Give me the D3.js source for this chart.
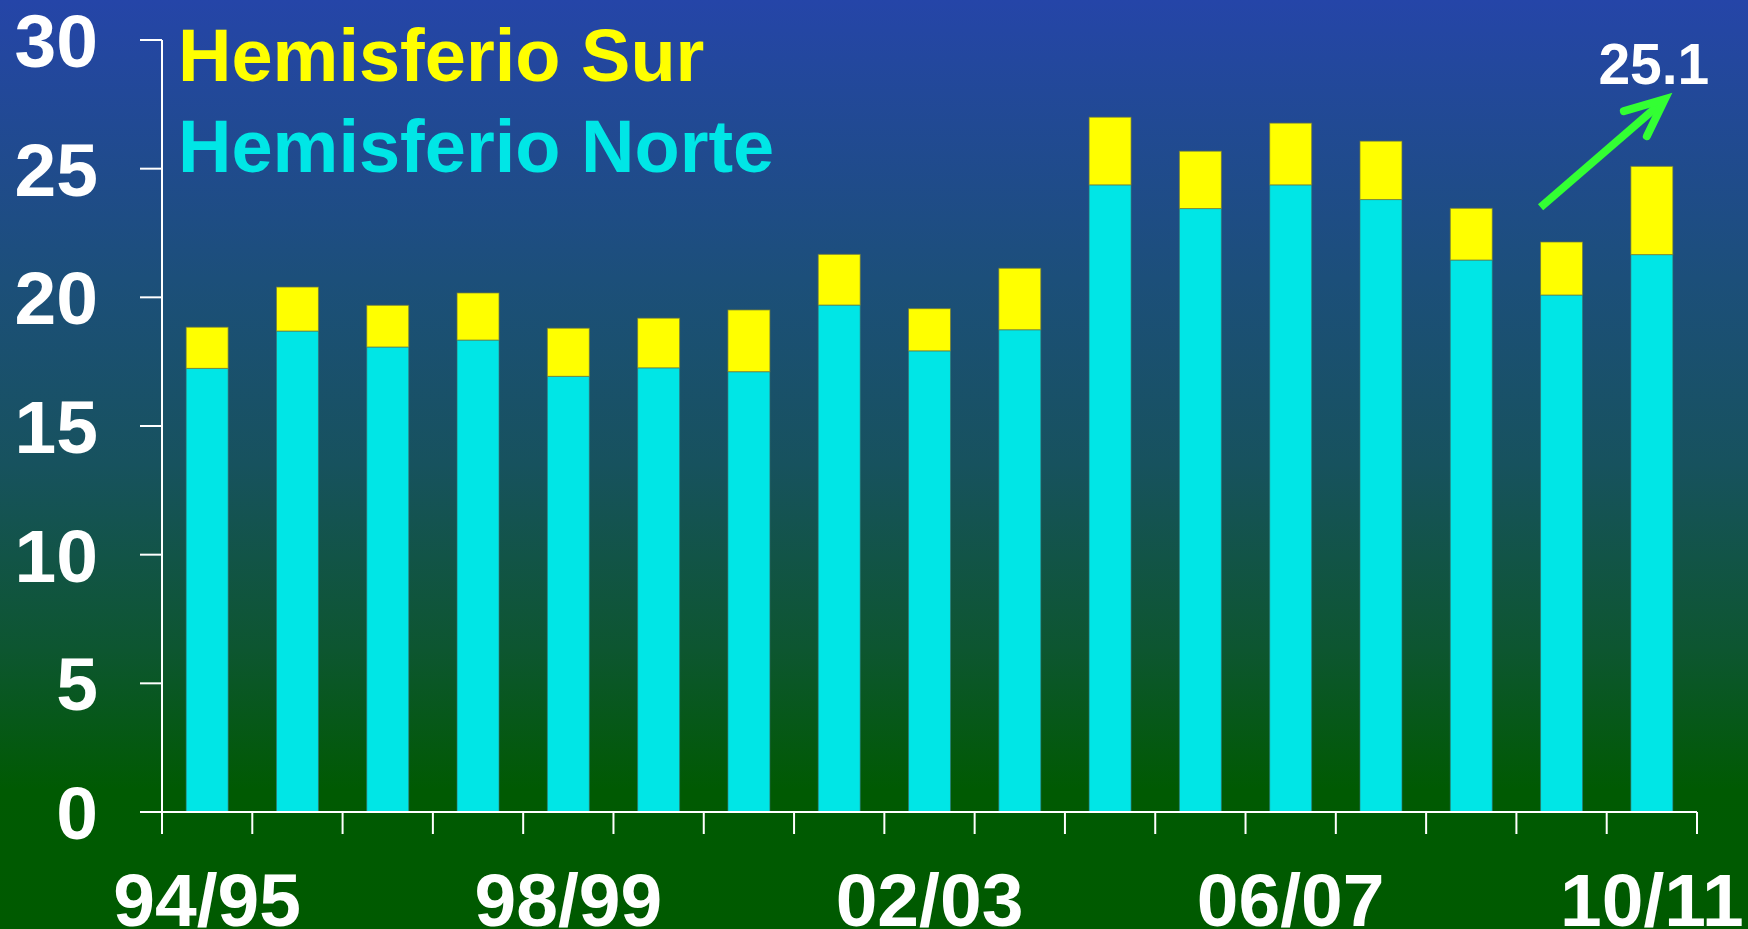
<!DOCTYPE html>
<html>
<head>
<meta charset="utf-8">
<script src="https://cdn.jsdelivr.net/npm/d3@7"></script>
<style>
  html, body { margin: 0; padding: 0; background: #005a00; }
  svg { display: block; }
  text { font-family: "Liberation Sans", Arial, sans-serif; font-weight: bold; }
</style>
</head>
<body>
<svg id="chart" width="1748" height="929"></svg>
<script>
// ---- data ----
const categories = ["94/95","95/96","96/97","97/98","98/99","99/00","00/01","01/02","02/03",
                    "03/04","04/05","05/06","06/07","07/08","08/09","09/10","10/11"];
const norte = [17.24, 18.69, 18.07, 18.34, 16.93, 17.26, 17.11, 19.70, 17.92,
               18.74, 24.37, 23.45, 24.37, 23.80, 21.45, 20.09, 21.66];
const sur   = [1.60, 1.71, 1.62, 1.83, 1.87, 1.93, 2.40, 1.97, 1.64,
               2.39, 2.63, 2.23, 2.40, 2.27, 2.01, 2.06, 3.43];
const yTicks = [0, 5, 10, 15, 20, 25, 30];
const xLabels = ["94/95", "98/99", "02/03", "06/07", "10/11"];
const seriesNames = ["Hemisferio Sur", "Hemisferio Norte"];
const annotation = "25.1";

// ---- layout ----
const W = 1748, H = 929;
const svg = d3.select("#chart");

const defs = svg.append("defs");
const grad = defs.append("linearGradient").attr("id", "bg")
  .attr("x1", 0).attr("y1", 0).attr("x2", 0).attr("y2", 1);
grad.append("stop").attr("offset", "0%").attr("stop-color", "#2545a8");
grad.append("stop").attr("offset", "30%").attr("stop-color", "#1c4f7a");
grad.append("stop").attr("offset", "50%").attr("stop-color", "#17525e");
grad.append("stop").attr("offset", "70%").attr("stop-color", "#0d5630");
grad.append("stop").attr("offset", "85%").attr("stop-color", "#005a02");
grad.append("stop").attr("offset", "100%").attr("stop-color", "#005a00");
svg.append("rect").attr("width", W).attr("height", H).attr("fill", "url(#bg)");

const x = d3.scaleBand().domain(categories).range([162, 1697])
  .paddingInner(0.535).paddingOuter(0.2675);
const y = d3.scaleLinear().domain([0, 30]).range([812, 40]);

const rows = categories.map((c, i) => ({ c, n: norte[i], s: sur[i] }));

// bars
const g = svg.append("g");
g.selectAll("rect.n").data(rows).join("rect").attr("class", "n")
  .attr("x", d => x(d.c)).attr("width", x.bandwidth())
  .attr("y", d => y(d.n)).attr("height", d => y(0) - y(d.n))
  .attr("fill", "#00e6e6").attr("stroke", "rgba(60,110,110,0.6)").attr("stroke-width", 1);
g.selectAll("rect.s").data(rows).join("rect").attr("class", "s")
  .attr("x", d => x(d.c)).attr("width", x.bandwidth())
  .attr("y", d => y(d.n + d.s)).attr("height", d => y(d.n) - y(d.n + d.s))
  .attr("fill", "#ffff00").attr("stroke", "rgba(110,120,60,0.7)").attr("stroke-width", 1);

// y axis
const x0 = x.range()[0];
const ax = svg.append("g").attr("stroke", "#ffffff").attr("stroke-width", 2);
ax.append("line").attr("x1", x0).attr("x2", x0).attr("y1", y(30)).attr("y2", y(0));
ax.selectAll("line.yt").data(yTicks).join("line").attr("class", "yt")
  .attr("x1", x0 - 22).attr("x2", x0).attr("y1", d => y(d)).attr("y2", d => y(d));
svg.selectAll("text.yl").data(yTicks).join("text").attr("class", "yl")
  .attr("x", 98).attr("y", d => y(d) + 27).attr("text-anchor", "end")
  .attr("font-size", 75).attr("fill", "#ffffff").text(d => d);

// x axis
const xEnd = x.range()[1];
ax.append("line").attr("x1", x0 - 22).attr("x2", xEnd).attr("y1", y(0)).attr("y2", y(0));
const bounds = d3.range(categories.length + 1).map(i => x0 + i * x.step());
ax.selectAll("line.xt").data(bounds).join("line").attr("class", "xt")
  .attr("x1", d => d).attr("x2", d => d).attr("y1", y(0)).attr("y2", y(0) + 22);
svg.selectAll("text.xl").data(xLabels).join("text").attr("class", "xl")
  .attr("x", d => x(d) + x.bandwidth() / 2).attr("y", 926).attr("text-anchor", "middle")
  .attr("font-size", 75).attr("fill", "#ffffff").text(d => d);

// legend
svg.append("text").attr("x", 178).attr("y", 81).attr("font-size", 74)
  .attr("fill", "#ffff00").text(seriesNames[0]);
svg.append("text").attr("x", 178).attr("y", 172).attr("font-size", 74)
  .attr("fill", "#00e6e6").text(seriesNames[1]);

// annotation arrow
const last = categories[categories.length - 1];
const prev = categories[categories.length - 2];
const tx = x(prev), ty = y(23.5);
const hx = x(last) + 34, hy = y(27.7);
const arrow = svg.append("g").attr("stroke", "#33ff33").attr("fill", "none")
  .attr("stroke-width", 8);
arrow.append("line").attr("x1", tx).attr("y1", ty).attr("x2", hx - 4).attr("y2", hy + 4)
  .attr("stroke-linecap", "butt");
arrow.append("polyline")
  .attr("points", `${hx - 41},${hy + 12} ${hx},${hy} ${hx - 18},${hy + 37}`)
  .attr("stroke-linecap", "round").attr("stroke-linejoin", "miter");
svg.append("text").attr("x", x(last) + x.bandwidth() / 2 + 2).attr("y", y(28.3))
  .attr("text-anchor", "middle").attr("font-size", 57).attr("fill", "#ffffff").text(annotation);
</script>
</body>
</html>
